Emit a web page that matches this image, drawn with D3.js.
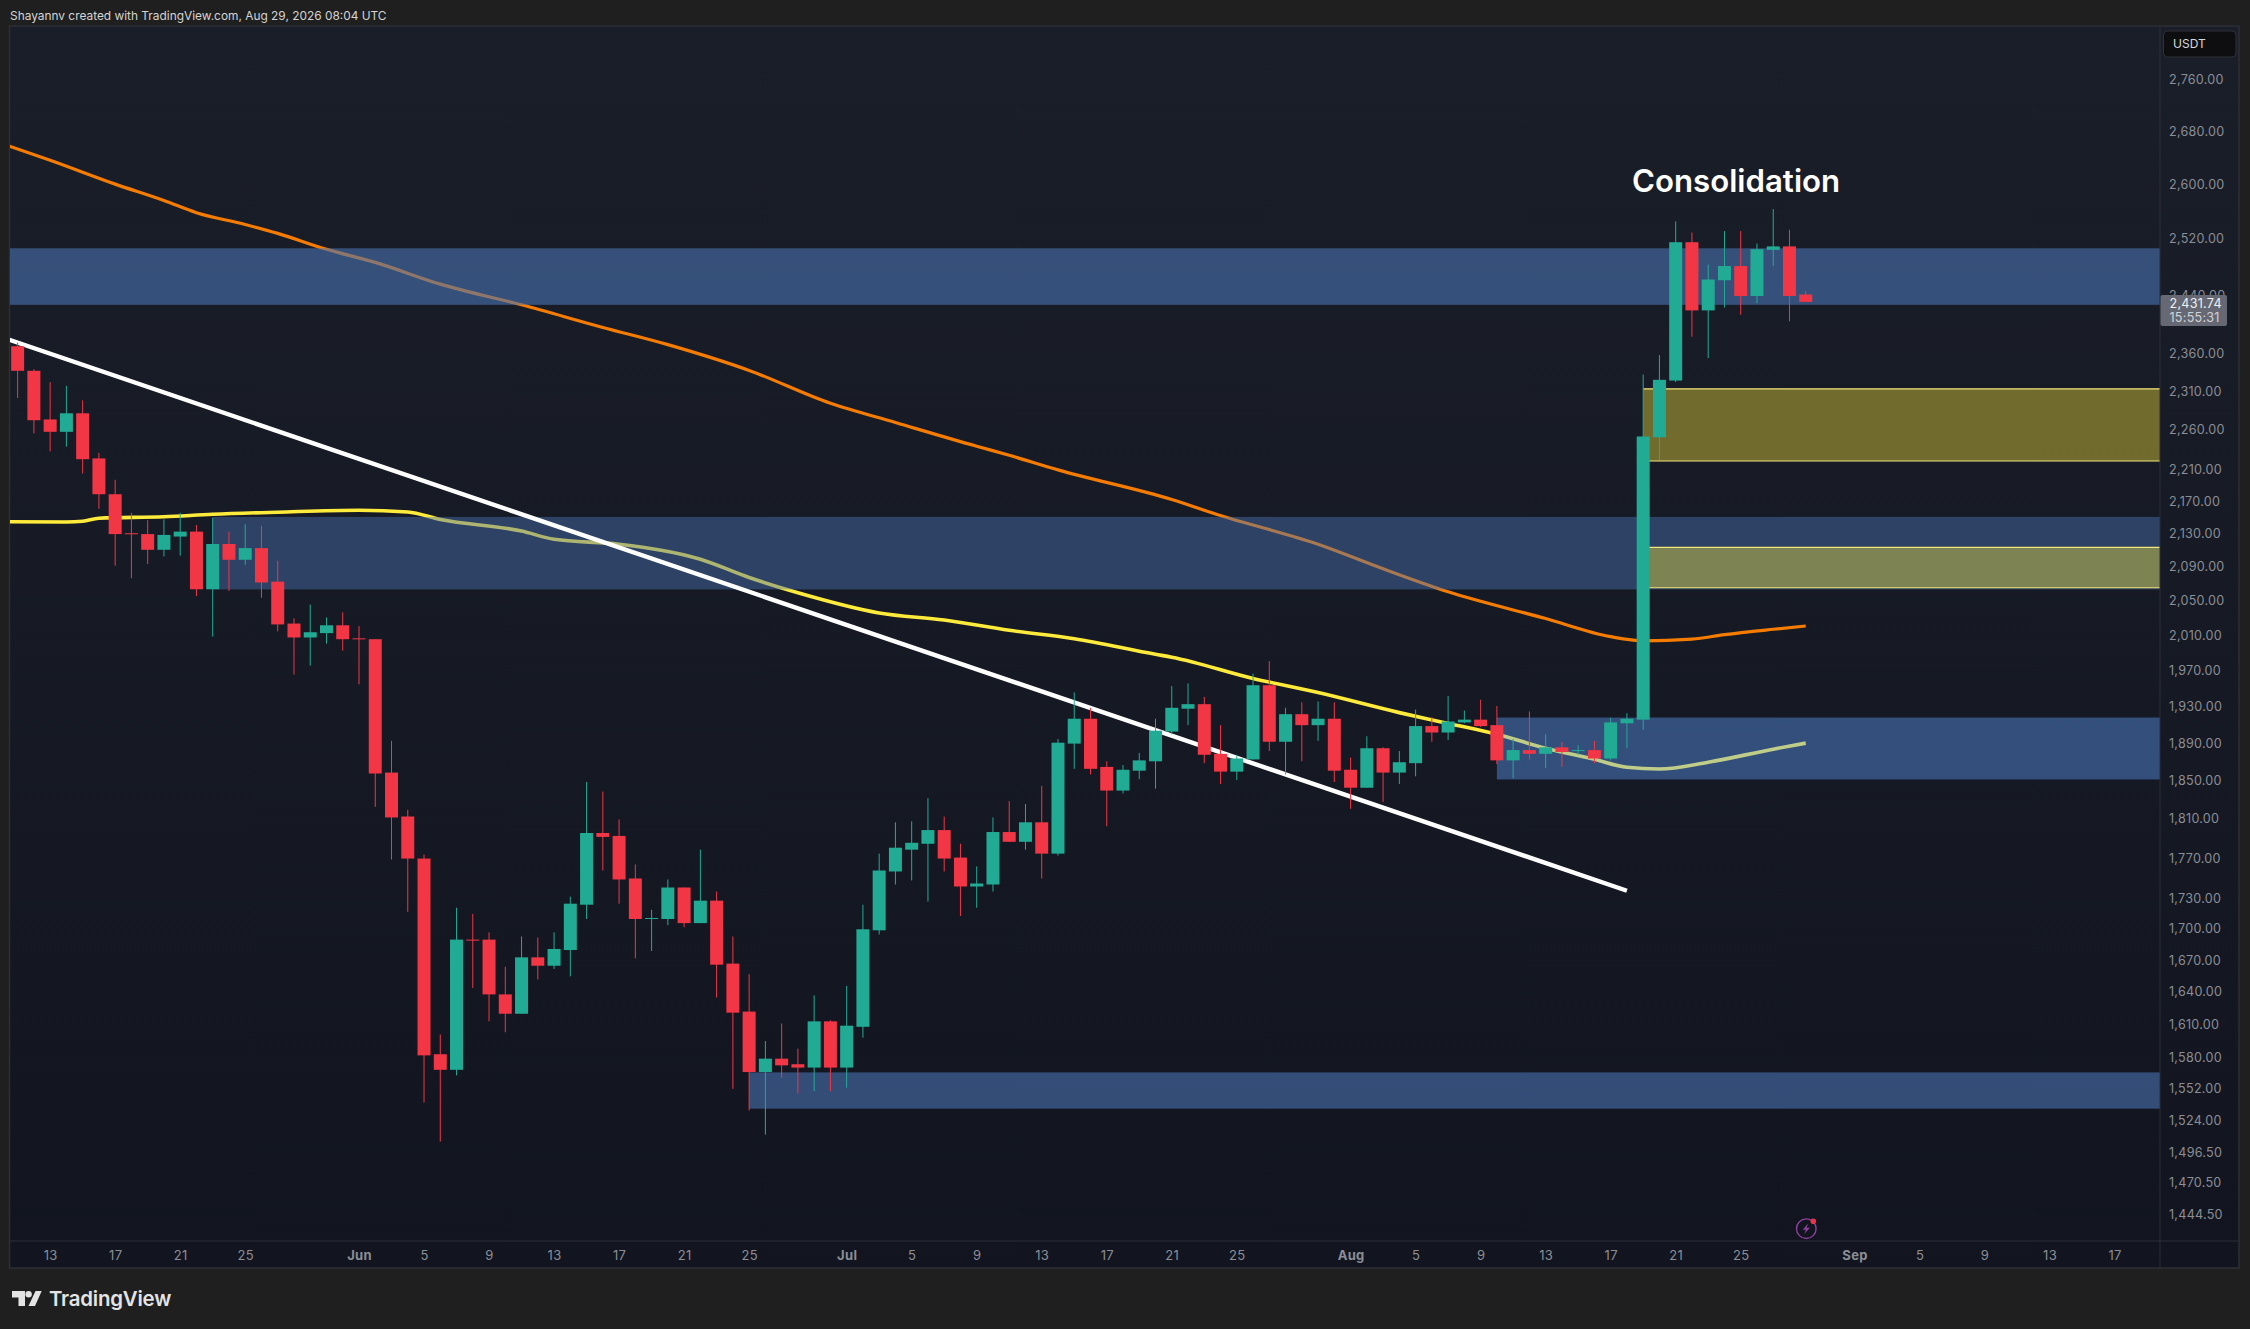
<!DOCTYPE html>
<html>
<head>
<meta charset="utf-8">
<script src="https://cdn.jsdelivr.net/npm/d3@7"></script>
<style>
  html, body { margin: 0; padding: 0; background: #1f1f1f; }
  svg { display: block; }
  text { font-family: Inter, "Liberation Sans", sans-serif; }
</style>
</head>
<body>
<script>
const firstDay = '2026-05-11';

const opens = [2371,2338,2274,2258,2282,2224,2179,2131,2130,2111,2127,2133,2064,2118,2099,2113,2073,2024,2008,2013,2022,
  2007,2006,1859,1813,1770,1583,1569,1690,1690,1638,1620,1673,1665,1680,1724,1796,1793,1750,1710,1710,1741,1706,1728,1667,1622,1567,1579,1574,1571,1613,
  1571,1608,1699,1757,1779,1785,1799,1771,1742,1744,1797,1787,1807,1775,1890,1917,1865,1840,1861,1871,1903,1928,1933,1879,1860,1873,1954,1892,1922,1910,1917,
  1862,1843,1885,1859,1869,1909,1902,1913,1916,1910,1872,1883,1879,1886,1882,1883,1874,1912,1916,2251,2325,2516,2420,2462,2482,2440,2505,2510,2442];
const highs = [2376,2340,2323,2318,2299,2231,2197,2156,2147,2148,2156,2141,2150,2133,2142,2140,2098,2030,2046,2031,2037,
  2021,2006,1893,1820,1774,1601,1721,1715,1697,1664,1693,1692,1697,1732,1849,1839,1810,1764,1719,1749,1741,1779,1737,1693,1657,1595,1611,1588,1637,1614,
  1646,1724,1775,1807,1808,1832,1813,1785,1762,1812,1829,1826,1845,1895,1946,1929,1871,1867,1880,1917,1953,1956,1941,1910,1878,1967,1981,1929,1935,1936,1935,
  1875,1898,1886,1882,1927,1919,1942,1926,1938,1931,1895,1925,1900,1892,1888,1893,1918,1923,2333,2359,2546,2530,2484,2532,2532,2514,2564,2534,2447];
const lows = [2302,2256,2233,2239,2205,2161,2092,2077,2094,2103,2104,2056,2009,2062,2093,2054,2015,1966,1976,2001,1993,
  1955,1823,1769,1717,1540,1506,1564,1644,1613,1603,1620,1652,1662,1655,1710,1758,1725,1672,1679,1704,1702,1706,1635,1552,1533,1512,1562,1548,1550,1550,
  1553,1598,1695,1744,1748,1727,1757,1713,1721,1737,1787,1779,1750,1773,1863,1857,1803,1837,1852,1842,1900,1910,1869,1847,1851,1873,1882,1857,1871,1893,1849,
  1821,1843,1828,1847,1855,1892,1894,1912,1908,1868,1853,1873,1864,1865,1878,1869,1872,1885,1905,2222,2323,2384,2355,2424,2414,2430,2482,2405,2431.74];
const closes = [2338,2273,2258,2282,2223,2179,2130,2130,2111,2129,2133,2064,2118,2099,2113,2072,2023,2008,2014,2022,2006,
  2006,1858,1812,1770,1582,1569,1690,1689,1638,1620,1673,1665,1681,1725,1796,1792,1749,1710,1711,1741,1706,1728,1666,1621,1567,1579,1573,1571,1613,1571,
  1609,1700,1758,1781,1786,1799,1770,1742,1745,1797,1787,1807,1775,1891,1917,1863,1840,1862,1872,1904,1929,1933,1878,1860,1874,1954,1892,1922,1910,1917,1861,
  1843,1885,1859,1870,1909,1902,1914,1916,1909,1872,1883,1879,1886,1881,1883,1874,1913,1917,2252,2326,2516,2420,2463,2482,2440,2506,2510,2440,2431.74];

const yellowDates = ['2026-05-10','2026-05-14','2026-05-15','2026-05-16','2026-05-20','2026-05-23','2026-05-27','2026-06-01','2026-06-04','2026-06-06','2026-06-11','2026-06-13','2026-06-17','2026-06-22','2026-06-25','2026-06-28','2026-07-03','2026-07-07','2026-07-11','2026-07-15','2026-07-20','2026-07-21','2026-07-26','2026-07-30','2026-08-04','2026-08-07','2026-08-10','2026-08-13','2026-08-16','2026-08-18','2026-08-20','2026-08-23','2026-08-27','2026-08-29'];
const yellowValues = [2145,2144.8,2145.7,2149.4,2151.2,2154.2,2156.8,2159.2,2157.1,2147.8,2133.7,2123.7,2117.7,2099.6,2077.9,2059.9,2036.3,2028.1,2016.2,2006.5,1988.8,1985.5,1961.6,1945.8,1923.7,1911.9,1900.1,1885,1873.2,1864.6,1862.8,1870,1884,1890.5];

const orangeDates = ['2026-05-10','2026-05-13','2026-05-17','2026-05-20','2026-05-22','2026-05-25','2026-05-27','2026-05-30','2026-06-02','2026-06-06','2026-06-11','2026-06-16','2026-06-20','2026-06-25','2026-06-30','2026-07-04','2026-07-09','2026-07-11','2026-07-14','2026-07-21','2026-07-24','2026-07-30','2026-08-03','2026-08-07','2026-08-13','2026-08-17','2026-08-19','2026-08-22','2026-08-24','2026-08-27','2026-08-29'];
const orangeValues = [2662,2636.5,2600.8,2576.6,2558.7,2541.6,2528.7,2505.8,2487.2,2456.5,2427.7,2396.6,2373.2,2338.5,2295,2270,2239.5,2228,2209.5,2172.5,2152.6,2117.7,2088.2,2061,2029.8,2008.9,2004.2,2006.1,2011.2,2017.4,2021.2];

const trendDates = ['2026-05-10','2026-08-18'];
const trendValues = [2383.5,1737.8];

const blueZoneStarts = ['2026-05-10','2026-05-23','2026-06-25','2026-08-10'];
const blueZoneTops = [2507.3,2151,1566.7,1918.3];
const blueZoneBottoms = [2427.7,2063.8,1534.6,1851.7];

const yellowZoneStarts = ['2026-08-19','2026-08-19'];
const yellowZoneTops = [2314,2114];
const yellowZoneBottoms = [2220.7,2065.8];

const priceTicks = [2760,2680,2600,2520,2440,2360,2310,2260,2210,2170,2130,2090,2050,2010,1970,1930,1890,1850,1810,1770,1730,1700,1670,1640,1610,1580,1552,1524,1496.5,1470.5,1444.5];
const dateTicks = ['2026-05-13','2026-05-17','2026-05-21','2026-05-25','2026-06-01','2026-06-05','2026-06-09','2026-06-13','2026-06-17','2026-06-21','2026-06-25','2026-07-01','2026-07-05','2026-07-09','2026-07-13','2026-07-17','2026-07-21','2026-07-25','2026-08-01','2026-08-05','2026-08-09','2026-08-13','2026-08-17','2026-08-21','2026-08-25','2026-09-01','2026-09-05','2026-09-09','2026-09-13','2026-09-17'];

const lastPrice = 2431.74;
const countdown = '15:55:31';

const parse = d3.utcParse('%Y-%m-%d');

const [w, h] = [2250, 1329];
const plot = { left: 10, right: 2160, top: 27, bottom: 1241, frameRight: 2239, frameBottom: 1268 };

const x = d3.scaleUtc().domain([parse('2026-06-01'), parse('2026-09-01')]).range([359, 1854.5]);
const y = d3.scaleLog().domain([1444.5, 2760]).range([1214.7, 80]);

const candles = opens.map((o, i) => ({
  date: d3.utcDay.offset(parse(firstDay), i),
  open: o, high: highs[i], low: lows[i], close: closes[i]
}));

const svg = d3.select('body').append('svg').attr('width', w).attr('height', h);

const defs = svg.append('defs');
const grad = defs.append('linearGradient').attr('id', 'paneBg').attr('x1', 0).attr('y1', 0).attr('x2', 0).attr('y2', 1);
grad.append('stop').attr('offset', 0).attr('stop-color', '#1a1e29');
grad.append('stop').attr('offset', 1).attr('stop-color', '#12151f');
defs.append('clipPath').attr('id', 'paneClip').append('rect')
  .attr('x', plot.left).attr('y', plot.top)
  .attr('width', plot.right - plot.left).attr('height', plot.bottom - plot.top);

svg.append('rect').attr('width', w).attr('height', h).attr('fill', '#1f1f1f');
svg.append('rect')
  .attr('x', plot.left - 0.5).attr('y', plot.top - 1)
  .attr('width', plot.frameRight - plot.left + 0.5).attr('height', plot.frameBottom - plot.top + 1)
  .attr('fill', 'url(#paneBg)').attr('stroke', '#2c2f36').attr('stroke-width', 1.5);

const pane = svg.append('g').attr('clip-path', 'url(#paneClip)');

// lines go under the zones, so they fade where a zone crosses them
const lineGen = d3.line().x(d => x(d[0])).y(d => y(d[1])).curve(d3.curveMonotoneX);
const zipLine = (dates, values) => dates.map((d, i) => [parse(d), values[i]]);

pane.append('path').attr('d', lineGen(zipLine(orangeDates, orangeValues)))
  .attr('fill', 'none').attr('stroke', '#f57c00').attr('stroke-width', 3.2);
pane.append('path').attr('d', lineGen(zipLine(yellowDates, yellowValues)))
  .attr('fill', 'none').attr('stroke', '#ffeb3b').attr('stroke-width', 3.6);

const blueAlpha = [0.6, 0.45, 0.6, 0.4];
const blueFill = ['#4973b3', '#4973b3', '#4973b3', '#61a1fe'];
blueZoneStarts.forEach((s, i) => {
  pane.append('rect')
    .attr('x', x(parse(s))).attr('y', y(blueZoneTops[i]))
    .attr('width', plot.right - x(parse(s)))
    .attr('height', y(blueZoneBottoms[i]) - y(blueZoneTops[i]))
    .attr('fill', blueFill[i]).attr('fill-opacity', blueAlpha[i]);
});

yellowZoneStarts.forEach((s, i) => {
  const [x0, y0, y1] = [x(parse(s)), y(yellowZoneTops[i]), y(yellowZoneBottoms[i])];
  pane.append('rect').attr('x', x0).attr('y', y0)
    .attr('width', plot.right - x0).attr('height', y1 - y0)
    .attr('fill', '#ffeb3b').attr('fill-opacity', 0.39);
  [y0, y1].forEach(v => pane.append('line')
    .attr('x1', x0).attr('x2', plot.right).attr('y1', v).attr('y2', v)
    .attr('stroke', '#f3e67a').attr('stroke-width', 1.2));
});

pane.append('path')
  .attr('d', d3.line().x(d => x(d[0])).y(d => y(d[1]))(zipLine(trendDates, trendValues)))
  .attr('fill', 'none').attr('stroke', '#ffffff').attr('stroke-width', 4.4);

const candleColor = d => d.close >= d.open ? '#22ab94' : '#f23645';
const bars = pane.selectAll('g.candle').data(candles).enter().append('g').attr('class', 'candle');

bars.append('line')
  .attr('x1', d => x(d.date)).attr('x2', d => x(d.date))
  .attr('y1', d => y(d.high)).attr('y2', d => y(d.low))
  .attr('stroke', candleColor).attr('stroke-width', 1);

bars.append('rect')
  .attr('x', d => x(d.date) - 6.5).attr('width', 13)
  .attr('y', d => y(Math.max(d.open, d.close)))
  .attr('height', d => Math.max(1, Math.abs(y(d.open) - y(d.close))))
  .attr('fill', candleColor);

// axes
const yAxis = svg.append('g').attr('transform', `translate(${plot.right},0)`)
  .call(d3.axisRight(y).tickValues(priceTicks).tickFormat(d3.format(',.2f')).tickSize(0).tickPadding(9));
yAxis.select('.domain').attr('stroke', '#2c2f36').attr('d', `M0,${plot.top}V${plot.frameBottom}`);
yAxis.selectAll('text').attr('fill', '#8b8e96').attr('font-size', 12.6).attr('letter-spacing', 0.25).attr('dy', '0.28em');

const xAxis = svg.append('g').attr('transform', `translate(0,${plot.bottom})`)
  .call(d3.axisBottom(x).tickValues(dateTicks.map(parse))
    .tickFormat(d => d.getUTCDate() === 1 ? d3.utcFormat('%b')(d) : d.getUTCDate())
    .tickSize(0).tickPadding(10));
xAxis.select('.domain').attr('stroke', '#2c2f36').attr('d', `M${plot.left},0H${plot.frameRight}`);
xAxis.selectAll('text').attr('fill', '#8b8e96').attr('font-size', 13).attr('letter-spacing', 0.3)
  .attr('font-weight', d => d.getUTCDate() === 1 ? 700 : 400);

// last price tag
const tagTop = y(lastPrice) - 7;
svg.append('rect').attr('x', plot.right + 0.5).attr('y', tagTop)
  .attr('width', 66.5).attr('height', 31).attr('rx', 2).attr('fill', '#666974');
svg.append('text').attr('x', 2169.5).attr('y', tagTop + 13).attr('fill', '#f0f0f2')
  .attr('font-size', 12.6).attr('letter-spacing', 0.25).text(d3.format(',.2f')(lastPrice));
svg.append('text').attr('x', 2169.5).attr('y', tagTop + 27).attr('fill', '#d2d3d8')
  .attr('font-size', 12.6).attr('letter-spacing', 0.25).text(countdown);

// currency button
svg.append('rect').attr('x', 2163.5).attr('y', 31).attr('width', 72.5).attr('height', 26).attr('rx', 4)
  .attr('fill', '#0e0e10').attr('stroke', '#2f3137');
svg.append('text').attr('x', 2173).attr('y', 48).attr('fill', '#d8d9dc').attr('font-size', 12).text('USDT');

svg.append('text').attr('x', 1632).attr('y', 191.5).attr('fill', '#ffffff')
  .attr('font-size', 31.2).attr('font-weight', 600).text('Consolidation');

svg.append('text').attr('x', 10).attr('y', 20).attr('fill', '#d4d4d4')
  .attr('font-size', 11.9).text('Shayannv created with TradingView.com, Aug 29, 2026 08:04 UTC');

// event marker
const mark = svg.append('g').attr('transform', 'translate(1806.3,1228.7)');
mark.append('circle').attr('r', 9.8).attr('fill', 'none').attr('stroke', '#8e3f9c').attr('stroke-width', 1.4);
mark.append('path').attr('d', 'M1.8,-5.2L-3.6,1H-0.4L-2,5.2L3.6,-1H0.4Z').attr('fill', '#8e3f9c');
mark.append('circle').attr('cx', 7).attr('cy', -7.4).attr('r', 2.8).attr('fill', '#e5364a');

// logo
const logo = svg.append('g').attr('fill', '#e4e4e4');
logo.append('path').attr('d', 'M12,1291H25V1306H18.5V1297.5H12Z');
logo.append('circle').attr('cx', 28.6).attr('cy', 1294.2).attr('r', 3.2);
logo.append('path').attr('d', 'M35.5,1291H41.7L35,1306H28.5Z');
svg.append('text').attr('x', 49).attr('y', 1305.5).attr('fill', '#e4e4e4')
  .attr('font-size', 20.4).attr('font-weight', 600).attr('letter-spacing', -0.2).text('TradingView');
</script>
</body>
</html>
